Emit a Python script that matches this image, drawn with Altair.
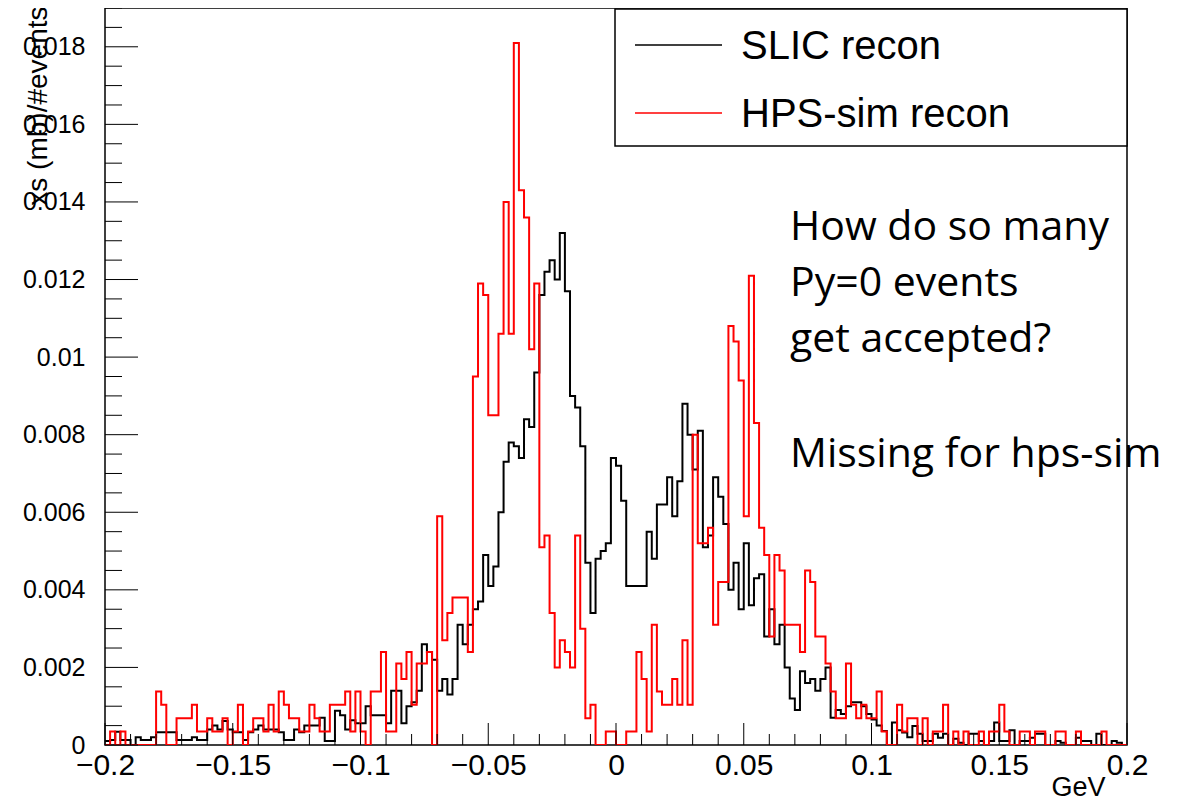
import altair as alt
import pandas as pd

# ---------------- data (bin contents, units of 1e-3) ----------------
X_MIN, X_MAX, BIN_W = -0.2, 0.2, 0.002
Y_MAX = 0.019

slic_recon = [
    0.1, 0.13, 0.34, 0.13, 0.13, 0.0, 0.2, 0.13, 0.13, 0.2,
    0.33, 0.33, 0.33, 0.33, 0.13, 0.13, 0.13, 0.2, 0.13, 0.13,
    0.4, 0.5, 0.4, 0.62, 0.4, 0.33, 0.33, 0.13, 0.33, 0.4,
    0.5, 0.4, 0.4, 0.4, 0.33, 0.13, 0.13, 0.4, 0.33, 0.5,
    0.5, 0.5, 0.7, 0.1, 0.1, 0.88, 0.77, 0.4, 0.64, 0.56,
    0.56, 1.0, 0.77, 0.77, 0.77, 0.56, 1.4, 1.4, 0.56, 1.0,
    1.1, 1.4, 2.6, 2.4, 2.2, 1.4, 1.7, 1.3, 1.7, 3.1,
    2.6, 3.1, 3.5, 3.7, 4.9, 4.1, 4.6, 6.0, 7.3, 7.8,
    7.7, 7.4, 8.4, 8.2, 9.6, 11.6, 12.2, 12.5, 12.0, 13.2,
    11.7, 9.0, 8.7, 7.7, 4.7, 3.4, 4.8, 5.0, 5.2, 7.4,
    7.2, 6.3, 4.1, 4.1, 4.1, 4.1, 5.5, 4.8, 6.2, 6.2,
    6.9, 5.9, 6.8, 8.8, 8.0, 7.1, 8.1, 5.1, 5.4, 6.9,
    6.4, 5.7, 4.0, 4.7, 3.5, 5.2, 3.6, 4.3, 4.4, 2.8,
    3.5, 2.6, 3.1, 2.0, 1.2, 0.9, 1.9, 1.6, 1.7, 1.4,
    1.7, 2.0, 0.7, 0.9, 0.8, 1.0, 1.1, 1.1, 1.0, 0.8,
    0.66, 0.5, 0.36, 0.0, 0.58, 0.38, 0.32, 0.2, 0.49, 0.29,
    0.1, 0.1, 0.29, 0.19, 0.29, 0.0, 0.16, 0.06, 0.0, 0.29,
    0.29, 0.1, 0.0, 0.1, 0.58, 0.1, 0.1, 0.38, 0.0, 0.1,
    0.1, 0.19, 0.29, 0.29, 0.0, 0.0, 0.1, 0.06, 0.0, 0.0,
    0.19, 0.1, 0.1, 0.0, 0.29, 0.0, 0.0, 0.1, 0.06, 0.0,
]

hps_sim_recon = [
    0, 0.35, 0, 0.35, 0, 0, 0, 0, 0, 0,
    1.38, 1.04, 0, 0, 0.69, 0.69, 0.69, 1.04, 0.35, 0.35,
    0.69, 0.35, 0.35, 0.69, 0, 0.35, 1.04, 0, 0.35, 0.69,
    0.69, 0.35, 1.04, 0.35, 1.38, 1.04, 0.69, 0.69, 0.35, 0.35,
    1.04, 0.69, 0.35, 0.35, 1.04, 1.04, 1.04, 1.38, 0.35, 1.38,
    0.35, 0, 1.38, 1.38, 2.4, 0.35, 0.35, 2.1, 1.7, 2.4,
    1.04, 2.1, 2.1, 2.4, 0, 5.9, 2.7, 3.4, 3.8, 3.8,
    3.8, 2.4, 9.5, 11.9, 11.6, 8.5, 8.5, 10.6, 14.0, 10.6,
    18.1, 14.3, 13.6, 10.2, 11.9, 5.1, 5.4, 3.4, 2.0, 2.7,
    2.4, 2.0, 5.4, 3.0, 0.69, 1.04, 0, 0, 0.35, 0.35,
    0, 0, 0.35, 0.35, 2.4, 1.7, 0.35, 3.1, 1.38, 1.04,
    1.04, 1.7, 1.04, 2.7, 1.04, 8.0, 5.2, 5.2, 5.6, 3.1,
    4.2, 4.2, 10.8, 10.4, 9.4, 5.9, 12.1, 8.3, 5.6, 4.9,
    2.8, 4.9, 4.5, 3.1, 3.1, 3.1, 2.4, 4.5, 4.2, 2.8,
    2.8, 2.1, 1.38, 0.69, 0.69, 2.1, 1.04, 0.69, 1.04, 0.69,
    0.69, 1.38, 0.35, 0, 0, 1.04, 0.35, 0.69, 0.69, 0,
    0.69, 0, 0.35, 0.35, 1.04, 0, 0.35, 0, 0.35, 0,
    0, 0.35, 0, 0.35, 0.35, 1.04, 0.35, 0, 0, 0.35,
    0.35, 0, 0.35, 0.35, 0, 0, 0.35, 0.35, 0, 0,
    0.35, 0, 0, 0, 0, 0.35, 0, 0, 0, 0,
]

series_names = ["SLIC recon", "HPS-sim recon"]
series_colors = ["#000000", "#ff0000"]

x_tick_major = [-0.2, -0.15, -0.1, -0.05, 0, 0.05, 0.1, 0.15, 0.2]
x_tick_minor = [round(-0.2 + 0.01 * k, 3) for k in range(41) if k % 5]
y_tick_major = [0, 0.002, 0.004, 0.006, 0.008, 0.01, 0.012, 0.014, 0.016, 0.018]
y_tick_minor = [round(0.0005 * k, 4) for k in range(39) if k % 4]

annotation_lines = ["How do so many", "Py=0 events", "get accepted?", "Missing for hps-sim"]

# ---------------- build tables ----------------
def step_table(name, vals):
    rows = []
    n = len(vals)
    for i in range(n + 1):
        rows.append({
            "series": name,
            "x": round(X_MIN + BIN_W * i, 4),
            "y": vals[min(i, n - 1)] * 1e-3,
            "order": i,
        })
    return pd.DataFrame(rows)

df_slic = step_table(series_names[0], slic_recon)
df_hps = step_table(series_names[1], hps_sim_recon)

W, H = 1022, 737
FONT = "Liberation Sans"

xscale = alt.Scale(domain=[X_MIN, X_MAX], nice=False, zero=False)
yscale = alt.Scale(domain=[0, Y_MAX], nice=False, zero=True)

x_axis = alt.Axis(
    values=x_tick_major,
    labelExpr="replace(toString(datum.value), '-', '\u2212')",
    ticks=False, tickSize=0, domain=False, grid=False,
    labelFont=FONT, labelFontSize=30, labelColor="black", labelPadding=5,
    labelOverlap=False, labelBound=False, labelFlush=False,
    title="GeV", titleFont=FONT, titleFontSize=27, titleFontWeight="normal",
    titleColor="black", titleAlign="right", titleAnchor="end",
    titleX=W - 22, titleY=50, titleBaseline="alphabetic",
)
y_axis = alt.Axis(
    values=y_tick_major,
    labelExpr="toString(datum.value)",
    ticks=False, tickSize=0, domain=False, grid=False,
    labelFont=FONT, labelFontSize=25, labelColor="black", labelPadding=20,
    labelOverlap=False, labelBound=False, labelFlush=False,
    title="xs (mb)/#events", titleFont=FONT, titleFontSize=28,
    titleFontWeight="normal", titleColor="black",
    titleAngle=270, titleAlign="right", titleBaseline="alphabetic",
    titleX=-59, titleY=-2,
)

def hist_layer(df, color):
    return alt.Chart(df).mark_line(
        interpolate="step-after", strokeWidth=2, color=color, clip=True
    ).encode(
        x=alt.X("x:Q", scale=xscale, axis=x_axis),
        y=alt.Y("y:Q", scale=yscale, axis=y_axis),
        order="order:Q",
    )

black_hist = hist_layer(df_slic, series_colors[0])
red_hist = hist_layer(df_hps, series_colors[1])

# inward tick marks (ROOT style)
def xticks(vals, length):
    return alt.Chart(pd.DataFrame({"v": vals})).mark_rule(color="black", strokeWidth=1).encode(
        x=alt.X("v:Q", scale=xscale, axis=x_axis),
        y=alt.value(H), y2=alt.value(H - length),
    )

def yticks(vals, length):
    return alt.Chart(pd.DataFrame({"v": vals})).mark_rule(color="black", strokeWidth=1).encode(
        y=alt.Y("v:Q", scale=yscale, axis=y_axis),
        x=alt.value(0), x2=alt.value(length),
    )

ticks = [xticks(x_tick_major, 22), xticks(x_tick_minor, 11),
         yticks(y_tick_major, 33), yticks(y_tick_minor, 17)]

one = pd.DataFrame({"a": [0]})

# legend box
legend_box = alt.Chart(one).mark_rect(fill="white", stroke="black", strokeWidth=1.5).encode(
    x=alt.value(510), x2=alt.value(W), y=alt.value(1), y2=alt.value(138)
)
legend_parts = [legend_box]
for k, (name, col) in enumerate(zip(series_names, series_colors)):
    yy = 37 + 68 * k
    legend_parts.append(
        alt.Chart(one).mark_rule(color=col, strokeWidth=1.6).encode(
            x=alt.value(530), x2=alt.value(617), y=alt.value(yy)
        )
    )
    legend_parts.append(
        alt.Chart(one).mark_text(
            font=FONT, fontSize=40, align="left", baseline="middle", color="black"
        ).encode(x=alt.value(636), y=alt.value(yy + 2), text=alt.value(name))
    )

# annotation text
ann_y = [232, 288, 344, 459]
ann_parts = []
for line, yy in zip(annotation_lines, ann_y):
    ann_parts.append(
        alt.Chart(one).mark_text(
            font="Open Sans", fontSize=41, align="left", baseline="alphabetic", color="black"
        ).encode(x=alt.value(685), y=alt.value(yy), text=alt.value(line))
    )

chart = alt.layer(
    black_hist, red_hist, *ticks, *legend_parts, *ann_parts
).properties(
    width=W, height=H,
    padding={"left": 97, "top": 0, "right": 61, "bottom": 58},
    autosize=alt.AutoSizeParams(type="none"),
    background="white",
).configure_view(stroke="black", strokeWidth=1.5)

chart.save("out.html", embed_options={"renderer": "svg", "actions": False})
